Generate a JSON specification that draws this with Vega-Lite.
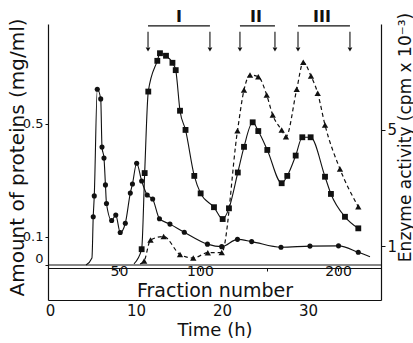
{
  "$schema": "https://vega.github.io/schema/vega-lite/v6.json",
  "width": 333,
  "height": 276,
  "autosize": {"type": "none"},
  "padding": {"left": 48, "top": 24, "right": 32, "bottom": 43},
  "background": "white",
  "config": {
    "view": {"stroke": null},
    "font": "DejaVu Sans",
    "axis": {
      "grid": false,
      "domainColor": "#111",
      "tickColor": "#111",
      "labelColor": "#111",
      "titleColor": "#111",
      "labelFont": "DejaVu Sans",
      "titleFont": "DejaVu Sans",
      "titleFontWeight": "normal",
      "labelFontSize": 15,
      "domainWidth": 1.2
    }
  },
  "datasets": {
    "protein": [
      {"series": "A", "time": 4.19, "protein": 0, "measured": false},
      {"series": "A", "time": 4.88, "protein": 0.025, "measured": false},
      {"series": "A", "time": 5.03, "protein": 0.171, "measured": true},
      {"series": "A", "time": 5.15, "protein": 0.245, "measured": true},
      {"series": "A", "time": 5.50, "protein": 0.623, "measured": true},
      {"series": "A", "time": 5.90, "protein": 0.589, "measured": true},
      {"series": "A", "time": 6.05, "protein": 0.418, "measured": true},
      {"series": "A", "time": 6.28, "protein": 0.379, "measured": true},
      {"series": "A", "time": 6.45, "protein": 0.284, "measured": true},
      {"series": "A", "time": 6.57, "protein": 0.218, "measured": true},
      {"series": "A", "time": 7.17, "protein": 0.158, "measured": true},
      {"series": "A", "time": 7.65, "protein": 0.177, "measured": true},
      {"series": "A", "time": 8.17, "protein": 0.115, "measured": true},
      {"series": "A", "time": 8.76, "protein": 0.148, "measured": true},
      {"series": "A", "time": 9.34, "protein": 0.255, "measured": true},
      {"series": "A", "time": 9.59, "protein": 0.287, "measured": true},
      {"series": "A", "time": 10.08, "protein": 0.361, "measured": true},
      {"series": "A", "time": 10.66, "protein": 0.298, "measured": true},
      {"series": "A", "time": 11.31, "protein": 0.248, "measured": true},
      {"series": "A", "time": 11.94, "protein": 0.234, "measured": true},
      {"series": "A", "time": 12.73, "protein": 0.164, "measured": true},
      {"series": "A", "time": 13.95, "protein": 0.145, "measured": true},
      {"series": "A", "time": 15.62, "protein": 0.116, "measured": true},
      {"series": "A", "time": 18.31, "protein": 0.074, "measured": true},
      {"series": "A", "time": 19.97, "protein": 0.065, "measured": true},
      {"series": "A", "time": 21.80, "protein": 0.091, "measured": true},
      {"series": "A", "time": 23.45, "protein": 0.083, "measured": true},
      {"series": "A", "time": 26.86, "protein": 0.063, "measured": true},
      {"series": "A", "time": 30.23, "protein": 0.067, "measured": true},
      {"series": "A", "time": 33.55, "protein": 0.068, "measured": true},
      {"series": "A", "time": 35.85, "protein": 0.045, "measured": true},
      {"series": "A", "time": 37.21, "protein": 0.029, "measured": false},
      {"series": "B", "time": 9.77, "protein": 0.004, "measured": false},
      {"series": "B", "time": 10.66, "protein": 0.056, "measured": true},
      {"series": "B", "time": 11.01, "protein": 0.326, "measured": true},
      {"series": "B", "time": 11.43, "protein": 0.615, "measured": true},
      {"series": "B", "time": 12.48, "protein": 0.724, "measured": true},
      {"series": "B", "time": 12.79, "protein": 0.751, "measured": true},
      {"series": "B", "time": 13.49, "protein": 0.742, "measured": true},
      {"series": "B", "time": 14.24, "protein": 0.717, "measured": true},
      {"series": "B", "time": 14.62, "protein": 0.691, "measured": true},
      {"series": "B", "time": 15.12, "protein": 0.547, "measured": true},
      {"series": "B", "time": 15.76, "protein": 0.479, "measured": true},
      {"series": "B", "time": 16.78, "protein": 0.316, "measured": true},
      {"series": "B", "time": 17.52, "protein": 0.254, "measured": true},
      {"series": "B", "time": 19.07, "protein": 0.205, "measured": true},
      {"series": "B", "time": 20.08, "protein": 0.163, "measured": true},
      {"series": "B", "time": 20.81, "protein": 0.201, "measured": true},
      {"series": "B", "time": 21.84, "protein": 0.328, "measured": true},
      {"series": "B", "time": 22.56, "protein": 0.419, "measured": true},
      {"series": "B", "time": 23.57, "protein": 0.506, "measured": true},
      {"series": "B", "time": 24.22, "protein": 0.475, "measured": true},
      {"series": "B", "time": 25.27, "protein": 0.408, "measured": true},
      {"series": "B", "time": 26.94, "protein": 0.290, "measured": true},
      {"series": "B", "time": 27.59, "protein": 0.316, "measured": true},
      {"series": "B", "time": 28.57, "protein": 0.388, "measured": true},
      {"series": "B", "time": 29.34, "protein": 0.453, "measured": true},
      {"series": "B", "time": 30.31, "protein": 0.453, "measured": true},
      {"series": "B", "time": 31.98, "protein": 0.313, "measured": true},
      {"series": "B", "time": 32.67, "protein": 0.252, "measured": true},
      {"series": "B", "time": 34.30, "protein": 0.171, "measured": true},
      {"series": "B", "time": 35.85, "protein": 0.130, "measured": true}
    ],
    "enzyme": [
      {"time": 10.47, "activity": 0.38, "measured": false},
      {"time": 10.95, "activity": 0.483, "measured": true},
      {"time": 11.69, "activity": 1.207, "measured": true},
      {"time": 13.22, "activity": 1.328, "measured": true},
      {"time": 15.12, "activity": 0.707, "measured": true},
      {"time": 16.66, "activity": 0.586, "measured": true},
      {"time": 18.35, "activity": 0.769, "measured": true},
      {"time": 19.97, "activity": 0.776, "measured": true},
      {"time": 21.80, "activity": 4.972, "measured": true},
      {"time": 22.56, "activity": 6.379, "measured": true},
      {"time": 23.26, "activity": 6.897, "measured": true},
      {"time": 24.22, "activity": 6.838, "measured": true},
      {"time": 25.20, "activity": 6.207, "measured": true},
      {"time": 25.90, "activity": 5.517, "measured": true},
      {"time": 26.94, "activity": 5.0, "measured": true},
      {"time": 27.44, "activity": 4.769, "measured": true},
      {"time": 28.69, "activity": 6.403, "measured": true},
      {"time": 29.45, "activity": 7.334, "measured": true},
      {"time": 30.35, "activity": 6.862, "measured": true},
      {"time": 31.13, "activity": 6.266, "measured": true},
      {"time": 31.98, "activity": 5.172, "measured": true},
      {"time": 33.72, "activity": 3.655, "measured": true},
      {"time": 35.85, "activity": 2.355, "measured": true}
    ],
    "pools": [
      {"pool": "I", "start": 11.40, "end": 18.60, "labelAt": 15.0},
      {"pool": "II", "start": 22.09, "end": 26.16, "labelAt": 23.95},
      {"pool": "III", "start": 28.84, "end": 34.88, "labelAt": 31.63}
    ]
  },
  "layer": [
    {
      "data": {"values": [{"protein": 0}]},
      "mark": {"type": "rule", "color": "#111", "strokeWidth": 1.1},
      "encoding": {
        "y": {"field": "protein", "type": "quantitative", "scale": {"domain": [-0.1241, 0.8546], "nice": false, "zero": false}, "axis": null}
      }
    },
    {
      "data": {"name": "protein"},
      "mark": {"type": "line", "interpolate": "monotone", "color": "#111", "strokeWidth": 1.1},
      "encoding": {
        "x": {
          "field": "time", "type": "quantitative",
          "scale": {"domain": [-0.23, 38.49], "nice": false, "zero": false},
          "axis": {
            "orient": "bottom", "values": [0, 10, 20, 30], "ticks": false, "labelPadding": 3,
            "title": "Time (h)", "titleFontSize": 18, "titleBaseline": "alphabetic", "titleY": 35
          }
        },
        "y": {
          "field": "protein", "type": "quantitative",
          "scale": {"domain": [-0.1241, 0.8546], "nice": false, "zero": false},
          "axis": {
            "orient": "left", "values": [0, 0.1, 0.5], "tickSize": 3, "labelPadding": 2, "labelFontSize": 13,
            "labelExpr": "datum.value == 0 ? '0' : format(datum.value, '.1f')",
            "labelBaseline": {"condition": {"test": "datum.value == 0", "value": "bottom"}, "value": "middle"},
            "title": "Amount of proteins (mg/ml)", "titleFontSize": 20,
            "titleBaseline": "alphabetic", "titleX": -25, "titleY": 133, "titleAngle": -90
          }
        },
        "detail": {"field": "series"}
      }
    },
    {
      "data": {"name": "protein"},
      "transform": [{"filter": "datum.measured"}],
      "mark": {"type": "point", "filled": true, "color": "#111", "opacity": 1},
      "encoding": {
        "x": {"field": "time", "type": "quantitative", "axis": null},
        "y": {"field": "protein", "type": "quantitative", "scale": {"domain": [-0.1241, 0.8546], "nice": false, "zero": false}, "axis": null},
        "shape": {"field": "series", "type": "nominal", "scale": {"domain": ["A", "B"], "range": ["circle", "square"]}, "legend": null},
        "size": {"field": "series", "type": "nominal", "scale": {"domain": ["A", "B"], "range": [26, 34]}, "legend": null}
      }
    },
    {
      "data": {"name": "pools"},
      "transform": [{"fold": ["start", "end"], "as": ["bound", "time"]}],
      "mark": {"type": "rule", "color": "#111", "strokeWidth": 1.1},
      "encoding": {
        "x": {"field": "time", "type": "quantitative", "axis": null},
        "y": {"datum": 0.827, "type": "quantitative", "scale": {"domain": [-0.1241, 0.8546], "nice": false, "zero": false}, "axis": null},
        "y2": {"datum": 0.772}
      }
    },
    {
      "data": {"name": "pools"},
      "transform": [{"fold": ["start", "end"], "as": ["bound", "time"]}],
      "mark": {"type": "point", "shape": "triangle-down", "filled": true, "color": "#111", "opacity": 1, "size": 22},
      "encoding": {
        "x": {"field": "time", "type": "quantitative", "axis": null},
        "y": {"datum": 0.764, "type": "quantitative", "scale": {"domain": [-0.1241, 0.8546], "nice": false, "zero": false}, "axis": null}
      }
    },
    {
      "data": {"name": "pools"},
      "mark": {"type": "rule", "color": "#111", "strokeWidth": 1.1},
      "encoding": {
        "x": {"field": "start", "type": "quantitative", "axis": null},
        "x2": {"field": "end"},
        "y": {"datum": 0.848, "type": "quantitative", "scale": {"domain": [-0.1241, 0.8546], "nice": false, "zero": false}, "axis": null}
      }
    },
    {
      "data": {"name": "pools"},
      "mark": {"type": "text", "color": "#111", "fontSize": 16, "fontWeight": "bold", "baseline": "middle", "font": "DejaVu Sans"},
      "encoding": {
        "x": {"field": "labelAt", "type": "quantitative", "axis": null},
        "y": {"datum": 0.88, "type": "quantitative", "scale": {"domain": [-0.1241, 0.8546], "nice": false, "zero": false}, "axis": null},
        "text": {"field": "pool"}
      }
    },
    {
      "data": {"name": "enzyme"},
      "mark": {"type": "line", "interpolate": "monotone", "color": "#111", "strokeWidth": 1.2, "strokeDash": [4, 3]},
      "encoding": {
        "x": {
          "field": "time", "type": "quantitative",
          "axis": {
            "orient": "bottom", "offset": -32, "values": [8.02, 17.44, 25.23, 33.49],
            "labelExpr": "datum.value < 10 ? '50' : datum.value < 20 ? '100' : datum.value < 30 ? '' : '200'",
            "ticks": true, "tickSize": 3, "labelPadding": -7, "labelFontSize": 14,
            "title": "Fraction number", "titleFontSize": 19, "titleBaseline": "alphabetic", "titleY": 28
          }
        },
        "y": {
          "field": "activity", "type": "quantitative",
          "scale": {"domain": [-0.862, 8.655], "nice": false, "zero": false},
          "axis": {
            "orient": "right", "values": [1, 5], "tickSize": 4, "labelPadding": 2,
            "title": "Enzyme activity (cpm x 10⁻³)", "titleFontSize": 17,
            "titleBaseline": "alphabetic", "titleAngle": -90, "titleX": 29, "titleY": 113
          }
        }
      }
    },
    {
      "data": {"name": "enzyme"},
      "transform": [{"filter": "datum.measured"}],
      "mark": {"type": "point", "shape": "triangle-up", "filled": true, "color": "#111", "opacity": 1, "size": 40},
      "encoding": {
        "x": {"field": "time", "type": "quantitative", "axis": null},
        "y": {"field": "activity", "type": "quantitative", "scale": {"domain": [-0.862, 8.655], "nice": false, "zero": false}, "axis": null}
      }
    }
  ],
  "resolve": {"scale": {"y": "independent"}, "axis": {"x": "independent"}}
}
